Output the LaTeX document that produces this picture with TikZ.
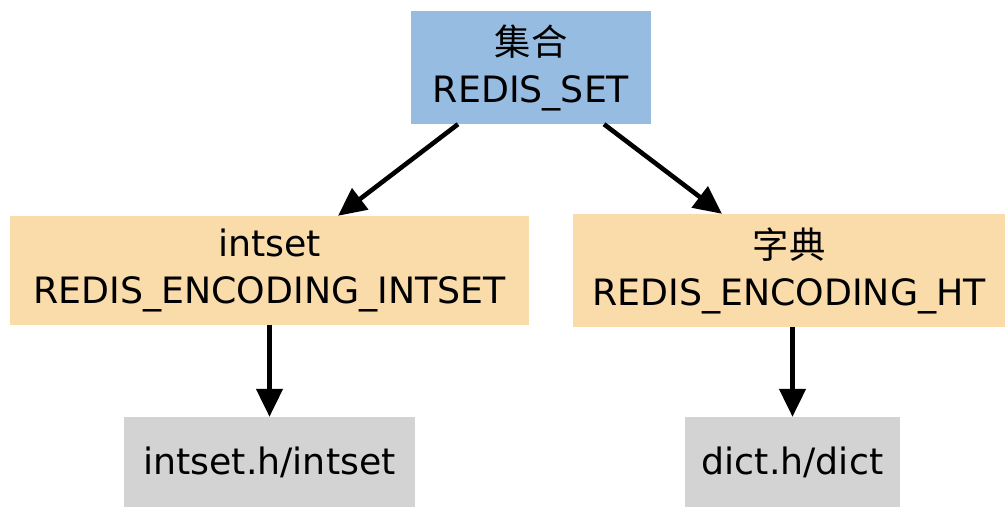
\documentclass[tikz,border=0pt]{standalone}
\usepackage{fontspec}
\setmainfont{DejaVu Sans}
\newfontfamily\cjk{Noto Sans CJK SC}
\usetikzlibrary{arrows.meta}
\definecolor{setblue}{RGB}{151,188,226}
\definecolor{encorange}{RGB}{250,219,170}
\definecolor{implgrey}{RGB}{211,211,211}
\tikzset{
  box/.style={inner sep=0pt, align=center, font=\fontsize{36.3}{47}\selectfont},
  arr/.style={line width=4.6pt, -{Triangle[length=28pt,width=26pt]}},
}
\begin{document}
\begin{tikzpicture}[x=1pt,y=-1pt]
\useasboundingbox (0,0) rectangle (1005,507);
\node[box, fill=setblue, minimum width=240pt, minimum height=113pt] (set) at (531,67.5) {{\cjk 集合}\\REDIS\_SET};
\node[box, fill=encorange, minimum width=519pt, minimum height=109pt] (intset) at (269.5,270.5) {intset\\REDIS\_ENCODING\_INTSET};
\node[box, fill=encorange, minimum width=432pt, minimum height=113pt] (ht) at (789,270.5) {{\cjk 字典}\\REDIS\_ENCODING\_HT};
\node[box, fill=implgrey, minimum width=291pt, minimum height=90pt] (intseth) at (269.5,462) {intset.h/intset};
\node[box, fill=implgrey, minimum width=215pt, minimum height=90pt] (dicth) at (792.5,462) {dict.h/dict};
\draw[arr] ([xshift=-73pt]set.south) -- ([xshift=68.5pt]intset.north);
\draw[arr] ([xshift=73pt]set.south) -- ([xshift=-67pt]ht.north);
\draw[arr] (intset.south) -- (intseth.north);
\draw[arr] ([xshift=3.5pt]ht.south) -- (dicth.north);
\end{tikzpicture}
\end{document}
